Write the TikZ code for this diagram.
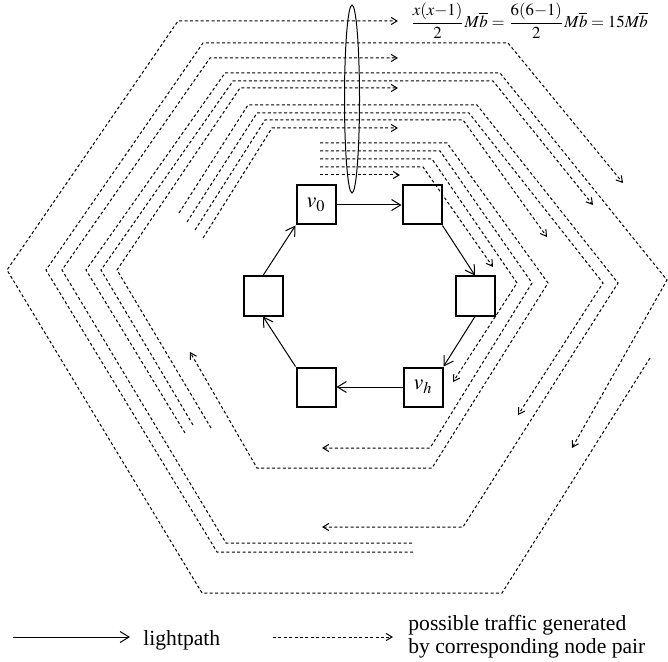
\documentclass[tikz,border=0pt]{standalone}
\usepackage{amsmath}
\usepackage{mathptmx}
\usepackage{fontspec}
\setmainfont{Liberation Serif}
\usepackage{tikz}
\usetikzlibrary{arrows.meta,shapes.geometric}

\begin{document}
\begin{tikzpicture}[
  x=0.5pt,y=-0.5pt,font=\fontsize{10.8}{11.5}\selectfont,
  sq/.style={draw,line width=1pt,minimum size=19.5pt,inner sep=0pt,font=\fontsize{11}{12}\selectfont},
  lp/.style={-{Straight Barb[length=4.5pt,width=5.5pt]},line width=0.5pt},
  tr/.style={-{Straight Barb[length=3pt,width=3.6pt]},line width=0.5pt,dash pattern=on 1.5pt off 1.2pt},
  txt/.style={inner sep=0pt,anchor=base west}
]
\useasboundingbox (0,0) rectangle (668,662);

% ---- ring
\node[sq] (v0) at (316,205) {$v_0$};
\node[sq] (v1) at (422,205) {};
\node[sq] (v2) at (475,296) {};
\node[sq] (vh) at (423,387) {$v_h$};
\node[sq] (v4) at (316,387) {};
\node[sq] (v5) at (263,296) {};

\draw[lp] (v0) -- (v1);
\draw[lp] (v1.south east) -- (v2.north);
\draw[lp] (v2.south) -- (vh.north east);
\draw[lp] (vh) -- (v4);
\draw[lp] (v4.north west) -- (v5.south);
\draw[lp] (v5.north) -- (v0.south west);

% ---- traffic from v2 and v3
\draw[tr] (650,358) -- (502,593) -- (202,593) -- (7,270) -- (178,21) -- (398,21);
\draw[tr] (413,552) -- (217,552) -- (46,270) -- (203,43) -- (508,43) -- (623,183);
\draw[tr] (412,543) -- (226,543) -- (62,270) -- (210,58) -- (398,58);

% ---- traffic from v4
\draw[tr] (185,433) -- (86,270) -- (225,73) -- (500,73) -- (667,280) -- (572,448);
\draw[tr] (193,425) -- (101,270) -- (233,81) -- (493,81) -- (593,205);
\draw[tr] (211,428) -- (117,270) -- (240,88) -- (398,88);

% ---- traffic from v5
\draw[tr] (179,213) -- (248,105) -- (477,105) -- (618,283) -- (463,527) -- (322,527);
\draw[tr] (187,222) -- (257,113) -- (469,113) -- (603,283) -- (518,415);
\draw[tr] (195,230) -- (265,120) -- (463,120) -- (547,237);
\draw[tr] (203,238) -- (272,128) -- (398,128);

% ---- traffic from v0
\draw[tr] (320,143) -- (447,143) -- (548,283) -- (432,468) -- (257,468) -- (190,352);
\draw[tr] (320,151) -- (440,151) -- (532,283) -- (430,448) -- (322,448);
\draw[tr] (320,159) -- (432,159) -- (517,283) -- (453,382);
\draw[tr] (320,167) -- (423,167) -- (493,267);
\draw[tr] (320,175) -- (400,175);

% ---- cut on the first link
\node[draw,ellipse,line width=0.5pt,minimum width=7.5pt,minimum height=94pt,inner sep=0pt] (cut) at (352,99) {};
\node[anchor=west,inner sep=0pt,font=\fontsize{8.4}{10}\selectfont] (eq) at (410,21)
  {$\dfrac{x(x{-}1)}{2}M\overline{\vphantom{l}b}=\dfrac{6(6{-}1)}{2}M\overline{\vphantom{l}b}=15M\overline{\vphantom{l}b}$};

% ---- legend
\coordinate (la) at (13,637);
\coordinate (lb) at (130,637);
\draw[lp] (la) -- (lb);
\node[txt] (llp) at (143,645) {lightpath};
\coordinate (ta) at (273,637);
\coordinate (tb) at (393,637);
\draw[tr] (ta) -- (tb);
\node[txt] (ltr1) at (408,630) {possible traffic generated};
\node[txt] (ltr2) at (408,653) {by corresponding node pair};
\end{tikzpicture}
\end{document}
